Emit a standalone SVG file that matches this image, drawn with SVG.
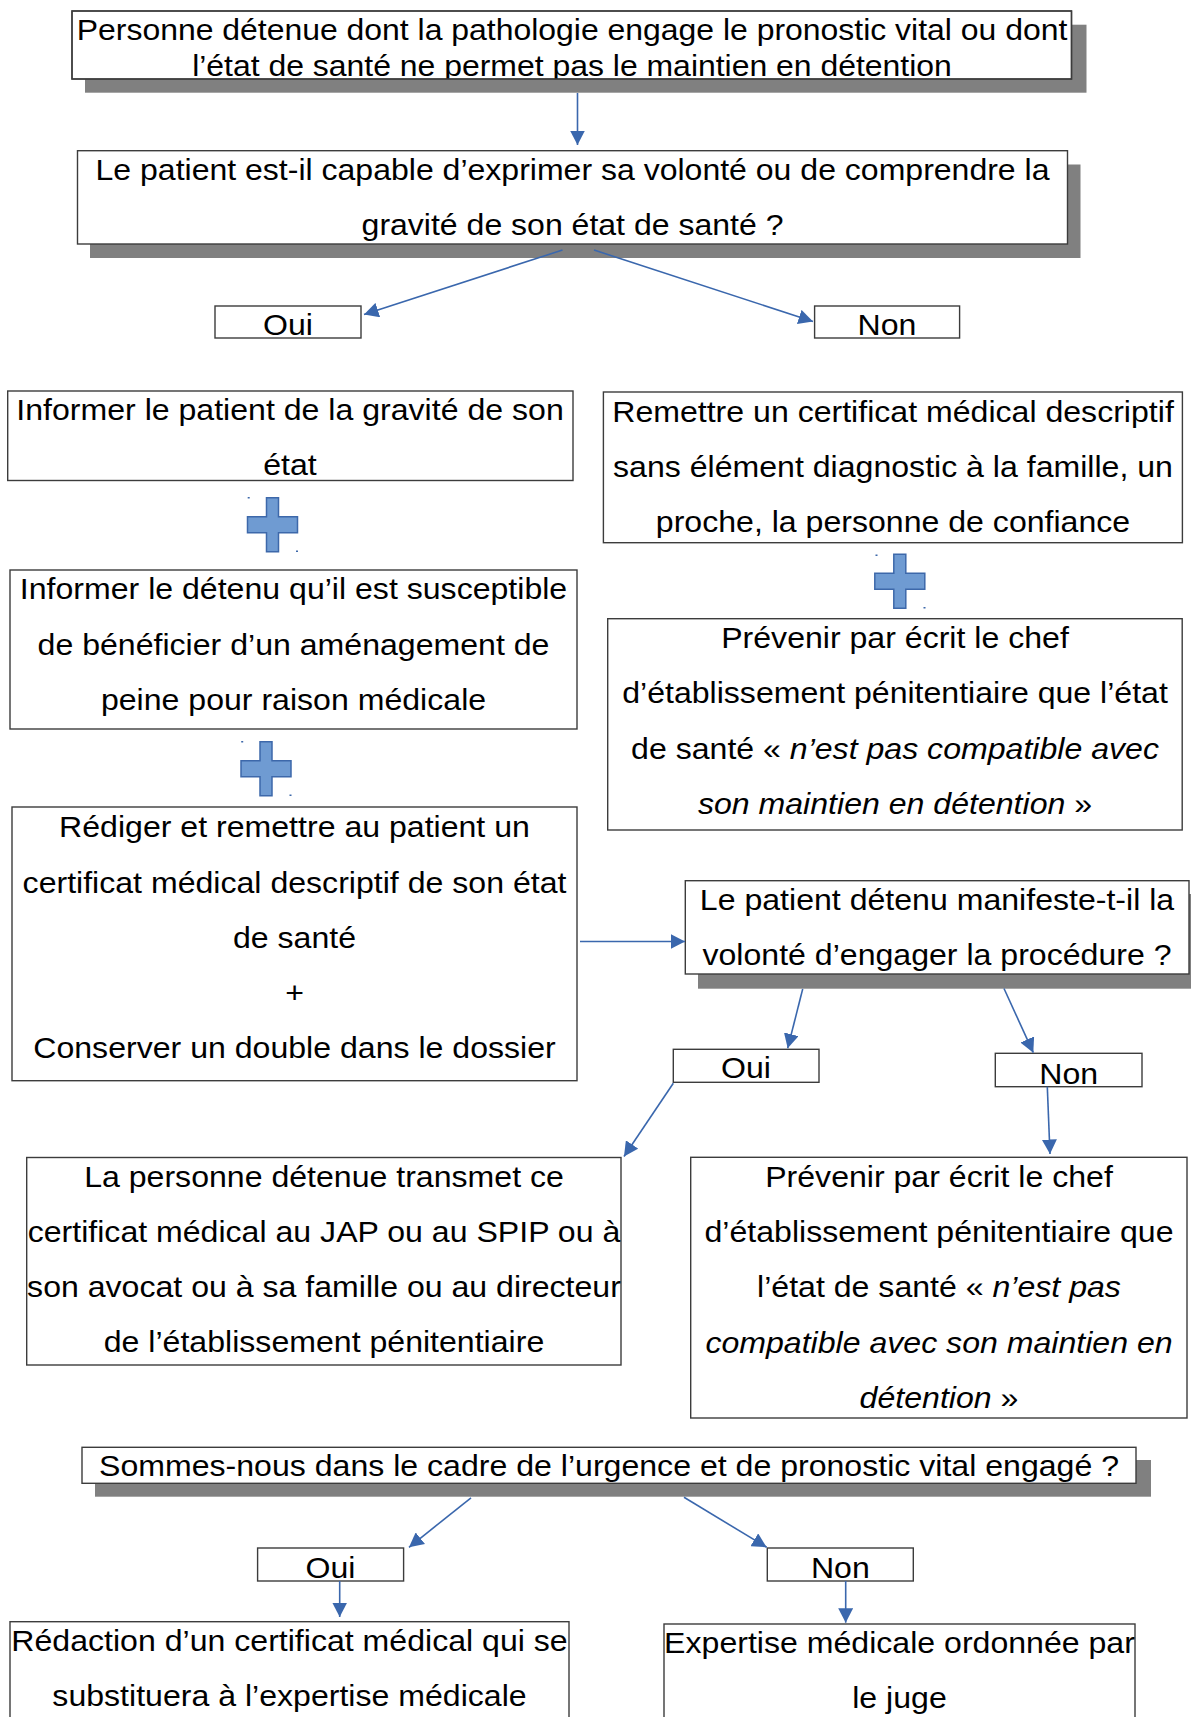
<svg xmlns="http://www.w3.org/2000/svg" xmlns:xlink="http://www.w3.org/1999/xlink" width="1191" height="1717" viewBox="0 0 1191 1717">
<style>
.bg{fill:#ffffff}
.box{fill:#ffffff;stroke:#3c3c3c;stroke-width:1.4}
.frame{fill:none;stroke:#3c3c3c;stroke-width:1.4}
.shadow{fill:#808080}
.t{font-family:"Liberation Sans",Arial,sans-serif;font-size:29.8px;fill:#000;text-anchor:middle}
.i{font-style:italic}
.conn{stroke:#3a67ad;stroke-width:1.6;fill:none;marker-end:url(#ah)}
.plus{fill:#6f9bd2;stroke:#3d68aa;stroke-width:1.5}
.dot{fill:#3d68aa}
</style>
<defs>
<marker id="ah" markerUnits="userSpaceOnUse" markerWidth="15" markerHeight="15" refX="14.5" refY="7.5" orient="auto" viewBox="0 0 15 15">
<path d="M0,0 L14.5,7.5 L0,15 Z" fill="#3a67ad"/>
</marker>
<path id="plus" d="M19,0 H31 V19 H50 V35 H31 V54 H19 V35 H0 V19 H19 Z"/>
<clipPath id="clip1"><rect x="72" y="11" width="999.5" height="68"/></clipPath>
</defs>
<rect class="bg" x="0" y="0" width="1191" height="1717"/>

<g id="n1">
<rect class="shadow" x="85" y="24.7" width="1001.5" height="68"/>
<rect class="box" x="72" y="11" width="999.5" height="68"/>
<g clip-path="url(#clip1)">
<text class="t" transform="matrix(1.072 0 0 1 572 0)"><tspan x="0" y="40">Personne détenue dont la pathologie engage le pronostic vital ou dont</tspan><tspan x="0" y="76">l’état de santé ne permet pas le maintien en détention</tspan></text>
</g>
<rect class="frame" x="72" y="11" width="999.5" height="68"/>
</g>

<g id="n2">
<rect class="shadow" x="90" y="164.5" width="990.5" height="93.5"/>
<rect class="box" x="77.5" y="150.7" width="990" height="93.3"/>
<text class="t" transform="matrix(1.075 0 0 1 572.5 0)"><tspan x="0" y="180">Le patient est-il capable d’exprimer sa volonté ou de comprendre la</tspan><tspan x="0" y="235.5">gravité de son état de santé ?</tspan></text>
</g>

<g id="oui1">
<rect class="box" x="215" y="306" width="146" height="32"/>
<text class="t" transform="matrix(1.077 0 0 1 288 0)" x="0" y="335.5">Oui</text>
</g>

<g id="non1">
<rect class="box" x="814.6" y="306" width="145" height="32"/>
<text class="t" transform="matrix(1.077 0 0 1 887 0)" x="0" y="335.5">Non</text>
</g>

<g id="n3">
<rect class="box" x="7.7" y="391" width="565.3" height="89.5"/>
<text class="t" transform="matrix(1.077 0 0 1 290 0)"><tspan x="0" y="420.5">Informer le patient de la gravité de son</tspan><tspan x="0" y="475.5">état</tspan></text>
</g>

<g id="plus1">
<use xlink:href="#plus" href="#plus" class="plus" x="247.5" y="497.7"/>
<rect class="dot" x="247.7" y="497" width="2" height="1.5"/>
<rect class="dot" x="296" y="550.5" width="2" height="1.5"/>
</g>

<g id="n4">
<rect class="box" x="10" y="570" width="567" height="159"/>
<text class="t" transform="matrix(1.077 0 0 1 293.5 0)"><tspan x="0" y="599.5">Informer le détenu qu’il est susceptible</tspan><tspan x="0" y="654.7">de bénéficier d’un aménagement de</tspan><tspan x="0" y="709.9">peine pour raison médicale</tspan></text>
</g>

<g id="plus2">
<use xlink:href="#plus" href="#plus" class="plus" x="241" y="741.7"/>
<rect class="dot" x="241.2" y="741" width="2" height="1.5"/>
<rect class="dot" x="289.5" y="794.5" width="2" height="1.5"/>
</g>

<g id="n5">
<rect class="box" x="12" y="807" width="565" height="273.7"/>
<text class="t" transform="matrix(1.077 0 0 1 294.5 0)"><tspan x="0" y="837.5">Rédiger et remettre au patient un</tspan><tspan x="0" y="892.7">certificat médical descriptif de son état</tspan><tspan x="0" y="947.9">de santé</tspan><tspan x="0" y="1003.1">+</tspan><tspan x="0" y="1058.3">Conserver un double dans le dossier</tspan></text>
</g>

<g id="n6">
<rect class="box" x="603.4" y="392" width="579" height="150.7"/>
<text class="t" transform="matrix(1.077 0 0 1 893 0)"><tspan x="0" y="421.7">Remettre un certificat médical descriptif</tspan><tspan x="0" y="476.9">sans élément diagnostic à la famille, un</tspan><tspan x="0" y="532.1">proche, la personne de confiance</tspan></text>
</g>

<g id="plus3">
<use xlink:href="#plus" href="#plus" class="plus" x="874.8" y="554.3"/>
<rect class="dot" x="875.5" y="554.5" width="2" height="1.5"/>
<rect class="dot" x="923.5" y="607" width="2" height="1.5"/>
</g>

<g id="n7">
<rect class="box" x="607.7" y="618.7" width="574.5" height="211.3"/>
<text class="t" transform="matrix(1.077 0 0 1 895 0)"><tspan x="0" y="648.3">Prévenir par écrit le chef</tspan><tspan x="0" y="703.5">d’établissement pénitentiaire que l’état</tspan><tspan x="0" y="758.7">de santé « <tspan class="i">n’est pas compatible avec</tspan></tspan><tspan x="0" y="813.9"><tspan class="i">son maintien en détention</tspan> »</tspan></text>
</g>

<g id="n8">
<rect class="shadow" x="698" y="894" width="500" height="94.7"/>
<rect class="box" x="685.3" y="880.7" width="503.7" height="93.3"/>
<text class="t" transform="matrix(1.077 0 0 1 937 0)"><tspan x="0" y="910">Le patient détenu manifeste-t-il la</tspan><tspan x="0" y="965.2">volonté d’engager la procédure ?</tspan></text>
</g>

<g id="oui2">
<rect class="box" x="673.3" y="1049.3" width="145.7" height="33"/>
<text class="t" transform="matrix(1.077 0 0 1 746 0)" x="0" y="1078">Oui</text>
</g>

<g id="non2">
<rect class="box" x="995.3" y="1053.3" width="146.7" height="33.4"/>
<text class="t" transform="matrix(1.077 0 0 1 1068.7 0)" x="0" y="1084">Non</text>
</g>

<g id="n9">
<rect class="box" x="26.7" y="1157.5" width="594.3" height="207.5"/>
<text class="t" transform="matrix(1.077 0 0 1 324 0)"><tspan x="0" y="1187.5">La personne détenue transmet ce</tspan><tspan x="0" y="1242.4">certificat médical au JAP ou au SPIP ou à</tspan><tspan x="0" y="1297.3">son avocat ou à sa famille ou au directeur</tspan><tspan x="0" y="1352.2">de l’établissement pénitentiaire</tspan></text>
</g>

<g id="n10">
<rect class="box" x="690.7" y="1157.3" width="496.3" height="260.7"/>
<text class="t" transform="matrix(1.077 0 0 1 939 0)"><tspan x="0" y="1187">Prévenir par écrit le chef</tspan><tspan x="0" y="1242.2">d’établissement pénitentiaire que</tspan><tspan x="0" y="1297.4">l’état de santé « <tspan class="i">n’est pas</tspan></tspan><tspan x="0" y="1352.6" class="i">compatible avec son maintien en</tspan><tspan x="0" y="1407.8"><tspan class="i">détention</tspan> »</tspan></text>
</g>

<g id="n11">
<rect class="shadow" x="95" y="1460" width="1056" height="36.7"/>
<rect class="box" x="82" y="1447.3" width="1054" height="36"/>
<text class="t" transform="matrix(1.077 0 0 1 609 0)" x="0" y="1476">Sommes-nous dans le cadre de l’urgence et de pronostic vital engagé ?</text>
</g>

<g id="oui3">
<rect class="box" x="257.6" y="1548" width="146" height="33"/>
<text class="t" transform="matrix(1.077 0 0 1 330.5 0)" x="0" y="1577.7">Oui</text>
</g>

<g id="non3">
<rect class="box" x="767.3" y="1548" width="146" height="33"/>
<text class="t" transform="matrix(1.077 0 0 1 840.3 0)" x="0" y="1577.7">Non</text>
</g>

<g id="n12">
<rect class="box" x="10" y="1621.7" width="559" height="120"/>
<text class="t" transform="matrix(1.077 0 0 1 289.5 0)"><tspan x="0" y="1651">Rédaction d’un certificat médical qui se</tspan><tspan x="0" y="1706.2">substituera à l’expertise médicale</tspan></text>
</g>

<g id="n13">
<rect class="box" x="664" y="1624" width="471" height="120"/>
<text class="t" transform="matrix(1.077 0 0 1 899.5 0)"><tspan x="0" y="1653.3">Expertise médicale ordonnée par</tspan><tspan x="0" y="1708.5">le juge</tspan></text>
</g>

<g id="connectors">
<line class="conn" x1="577.5" y1="93" x2="577.5" y2="145"/>
<line class="conn" x1="562.5" y1="250" x2="364" y2="314.5"/>
<line class="conn" x1="594" y1="250" x2="813" y2="321.5"/>
<line class="conn" x1="580" y1="941.5" x2="685" y2="941.5"/>
<line class="conn" x1="802.7" y1="989" x2="787.7" y2="1048.3"/>
<line class="conn" x1="1004" y1="988.5" x2="1033.3" y2="1052.7"/>
<line class="conn" x1="673.3" y1="1083.3" x2="624" y2="1156.5"/>
<line class="conn" x1="1047.3" y1="1086.7" x2="1050" y2="1154"/>
<line class="conn" x1="471" y1="1497.8" x2="409" y2="1547.3"/>
<line class="conn" x1="684" y1="1497.3" x2="766.7" y2="1547.3"/>
<line class="conn" x1="339.7" y1="1581" x2="339.7" y2="1617"/>
<line class="conn" x1="845.7" y1="1581" x2="845.7" y2="1622.7"/>
</g>
</svg>
